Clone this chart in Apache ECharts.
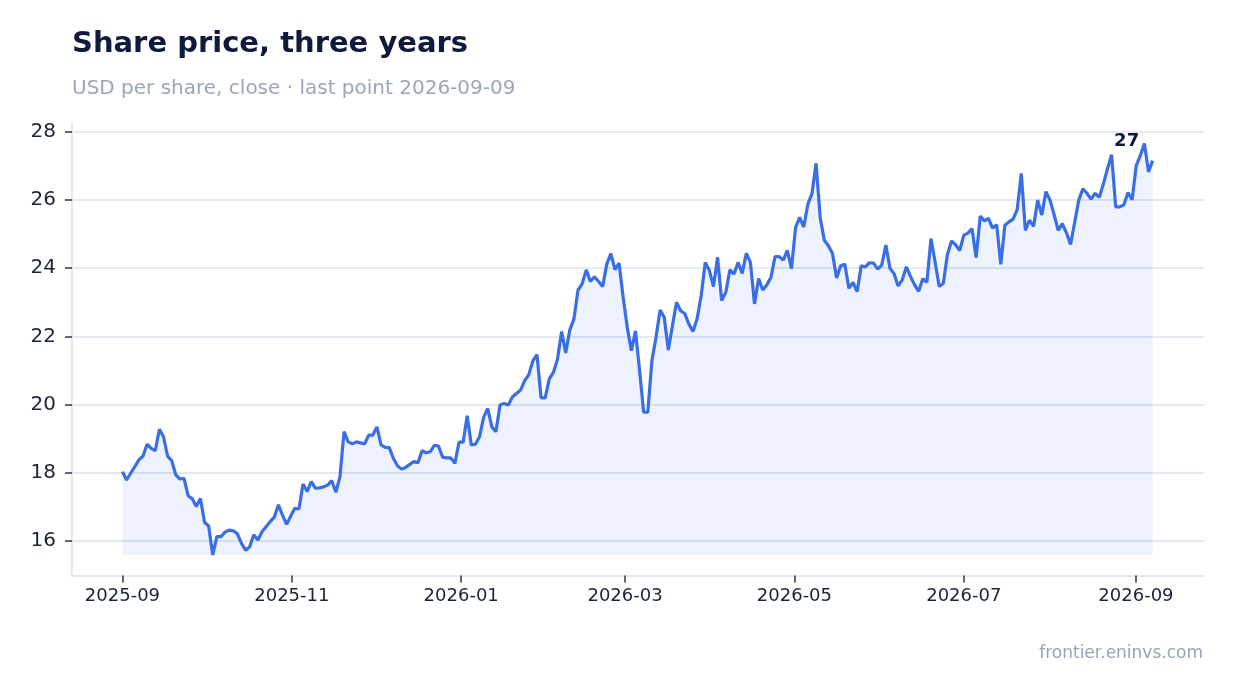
<!DOCTYPE html>
<html>
<head>
<meta charset="utf-8">
<script src="https://cdn.jsdelivr.net/npm/echarts@6/dist/echarts.min.js"></script>
<style>
html,body{margin:0;padding:0;background:#ffffff;}
#chart{width:1234px;height:693px;}
</style>
</head>
<body>
<div id="chart"></div>
<script>
// ---- texts ----
const titleText = 'Share price, three years';
const subtitleText = 'USD per share, close · last point 2026-09-09';
const sourceText = 'frontier.eninvs.com';

// ---- data ----
const firstDate = '2025-09-01T00:00:00';
const lastDate = '2026-09-07T00:00:00';
const closes = [
  18.02, 17.78, 17.98, 18.17, 18.37, 18.48, 18.83, 18.71, 18.64, 19.27,
  19.05, 18.48, 18.35, 17.93, 17.81, 17.83, 17.32, 17.23, 17.00, 17.24,
  16.54, 16.43, 15.58, 16.12, 16.12, 16.25, 16.31, 16.29, 16.20, 15.92,
  15.72, 15.82, 16.17, 16.02, 16.26, 16.41, 16.56, 16.69, 17.05, 16.75,
  16.48, 16.72, 16.95, 16.93, 17.66, 17.44, 17.73, 17.54, 17.55, 17.58,
  17.63, 17.76, 17.42, 17.88, 19.20, 18.90, 18.84, 18.90, 18.87, 18.84,
  19.10, 19.10, 19.34, 18.81, 18.74, 18.73, 18.42, 18.20, 18.10, 18.15,
  18.24, 18.32, 18.29, 18.64, 18.58, 18.61, 18.80, 18.78, 18.45, 18.43,
  18.43, 18.27, 18.89, 18.89, 19.67, 18.81, 18.83, 19.05, 19.62, 19.88,
  19.34, 19.20, 19.98, 20.03, 19.98, 20.22, 20.32, 20.42, 20.70, 20.87,
  21.28, 21.46, 20.19, 20.19, 20.75, 20.94, 21.33, 22.14, 21.51, 22.19,
  22.51, 23.36, 23.54, 23.95, 23.61, 23.75, 23.61, 23.46, 24.12, 24.43,
  23.96, 24.15, 23.14, 22.26, 21.58, 22.16, 20.99, 19.77, 19.77, 21.28,
  21.97, 22.77, 22.56, 21.60, 22.31, 23.00, 22.75, 22.67, 22.36, 22.14,
  22.51, 23.19, 24.17, 23.93, 23.46, 24.32, 23.05, 23.29, 23.95, 23.83,
  24.17, 23.85, 24.44, 24.17, 22.95, 23.70, 23.36, 23.51, 23.73, 24.34,
  24.34, 24.24, 24.52, 23.99, 25.19, 25.49, 25.21, 25.88, 26.19, 27.08,
  25.49, 24.82, 24.66, 24.43, 23.71, 24.07, 24.12, 23.41, 23.58, 23.31,
  24.07, 24.04, 24.16, 24.15, 23.97, 24.09, 24.68, 24.00, 23.84, 23.48,
  23.66, 24.04, 23.76, 23.51, 23.32, 23.69, 23.59, 24.87, 24.18, 23.46,
  23.56, 24.40, 24.80, 24.69, 24.52, 24.97, 25.03, 25.16, 24.31, 25.53,
  25.39, 25.46, 25.18, 25.28, 24.11, 25.26, 25.36, 25.44, 25.72, 26.78,
  25.11, 25.41, 25.23, 26.00, 25.56, 26.25, 26.00, 25.57, 25.11, 25.31,
  25.04, 24.70, 25.34, 26.00, 26.33, 26.20, 26.03, 26.20, 26.08, 26.47,
  26.92, 27.33, 25.80, 25.80, 25.86, 26.22, 26.01, 27.01, 27.31, 27.66,
  26.83, 27.16
];

// ---- ticks ----
const yTicks = [16, 18, 20, 22, 24, 26, 28];
const xTickStepDays = 75;   // makes the time axis pick a two-month step
const xRange = ['2025-08-13T20:00:00', '2026-09-25T12:00:00'];

// ---- build ----
const t0 = new Date(firstDate).getTime();
const t1 = new Date(lastDate).getTime();
const step = (t1 - t0) / (closes.length - 1);
const seriesData = closes.map((v, i) => [t0 + i * step, v]);
const lo = Math.min(...closes);
const hi = Math.max(...closes);
const pad = (hi - lo) * 0.05;
const lastPoint = seriesData[seriesData.length - 1];
const DAY = 24 * 3600 * 1000;

const FONT = 'DejaVu Sans';
const chart = echarts.init(document.getElementById('chart'), null, {renderer: 'canvas'});
chart.setOption({
  animation: false,
  backgroundColor: '#ffffff',
  grid: {left: 72, right: 30, top: 123, bottom: 117.5, containLabel: false},
  xAxis: {
    type: 'time',
    min: new Date(xRange[0]).getTime(),
    max: new Date(xRange[1]).getTime(),
    minInterval: xTickStepDays * DAY,
    maxInterval: xTickStepDays * DAY,
    axisLine: {show: true, lineStyle: {color: '#e3e8f0', width: 2}},
    axisTick: {show: true, length: 7, lineStyle: {color: '#2c3444', width: 1.5}},
    axisLabel: {
      showMinLabel: false,
      showMaxLabel: false,
      hideOverlap: false,
      margin: 12,
      color: '#1c2434',
      fontSize: 18,
      fontWeight: 'normal',
      fontFamily: FONT,
      formatter: function (v) {
        const d = new Date(v);
        return d.getFullYear() + '-' + String(d.getMonth() + 1).padStart(2, '0');
      }
    },
    splitLine: {show: false}
  },
  yAxis: {
    type: 'value',
    min: lo - pad,
    max: hi + pad,
    axisLine: {show: true, lineStyle: {color: '#e3e8f0', width: 2}},
    axisTick: {show: true, length: 7, customValues: yTicks, lineStyle: {color: '#2c3444', width: 1.5}},
    axisLabel: {customValues: yTicks, margin: 16, color: '#1c2434', fontSize: 20, fontFamily: FONT},
    splitLine: {show: true, lineStyle: {color: '#e4e8f0', width: 2}}
  },
  series: [{
    type: 'line',
    data: seriesData,
    symbol: 'none',
    showSymbol: false,
    lineStyle: {color: '#3a6ee6', width: 3.2},
    itemStyle: {color: '#3a6ee6'},
    areaStyle: {color: 'rgba(58,110,230,0.09)', opacity: 1, origin: lo},
    markPoint: {
      symbol: 'circle',
      symbolSize: 1,
      itemStyle: {color: 'rgba(0,0,0,0)'},
      data: [{coord: lastPoint, value: Math.round(lastPoint[1])}],
      label: {
        show: true,
        position: 'inside',
        offset: [-26, -19],
        formatter: p => String(p.value),
        fontFamily: FONT,
        fontWeight: 'bold',
        fontSize: 18,
        color: '#0f1b3d'
      }
    }
  }],
  graphic: [
    {type: 'text', x: 72, y: 44.5, style: {text: titleText, fontFamily: FONT, fontWeight: 'bold', fontSize: 29, fill: '#0f1b3d', align: 'left', verticalAlign: 'middle'}},
    {type: 'text', x: 72, y: 89, style: {text: subtitleText, fontFamily: FONT, fontSize: 20, fill: '#9aa6b9', align: 'left', verticalAlign: 'middle'}},
    {type: 'text', x: 1203, y: 653.5, style: {text: sourceText, fontFamily: FONT, fontSize: 17, fill: '#98a4b7', align: 'right', verticalAlign: 'middle'}}
  ]
});
</script>
</body>
</html>
